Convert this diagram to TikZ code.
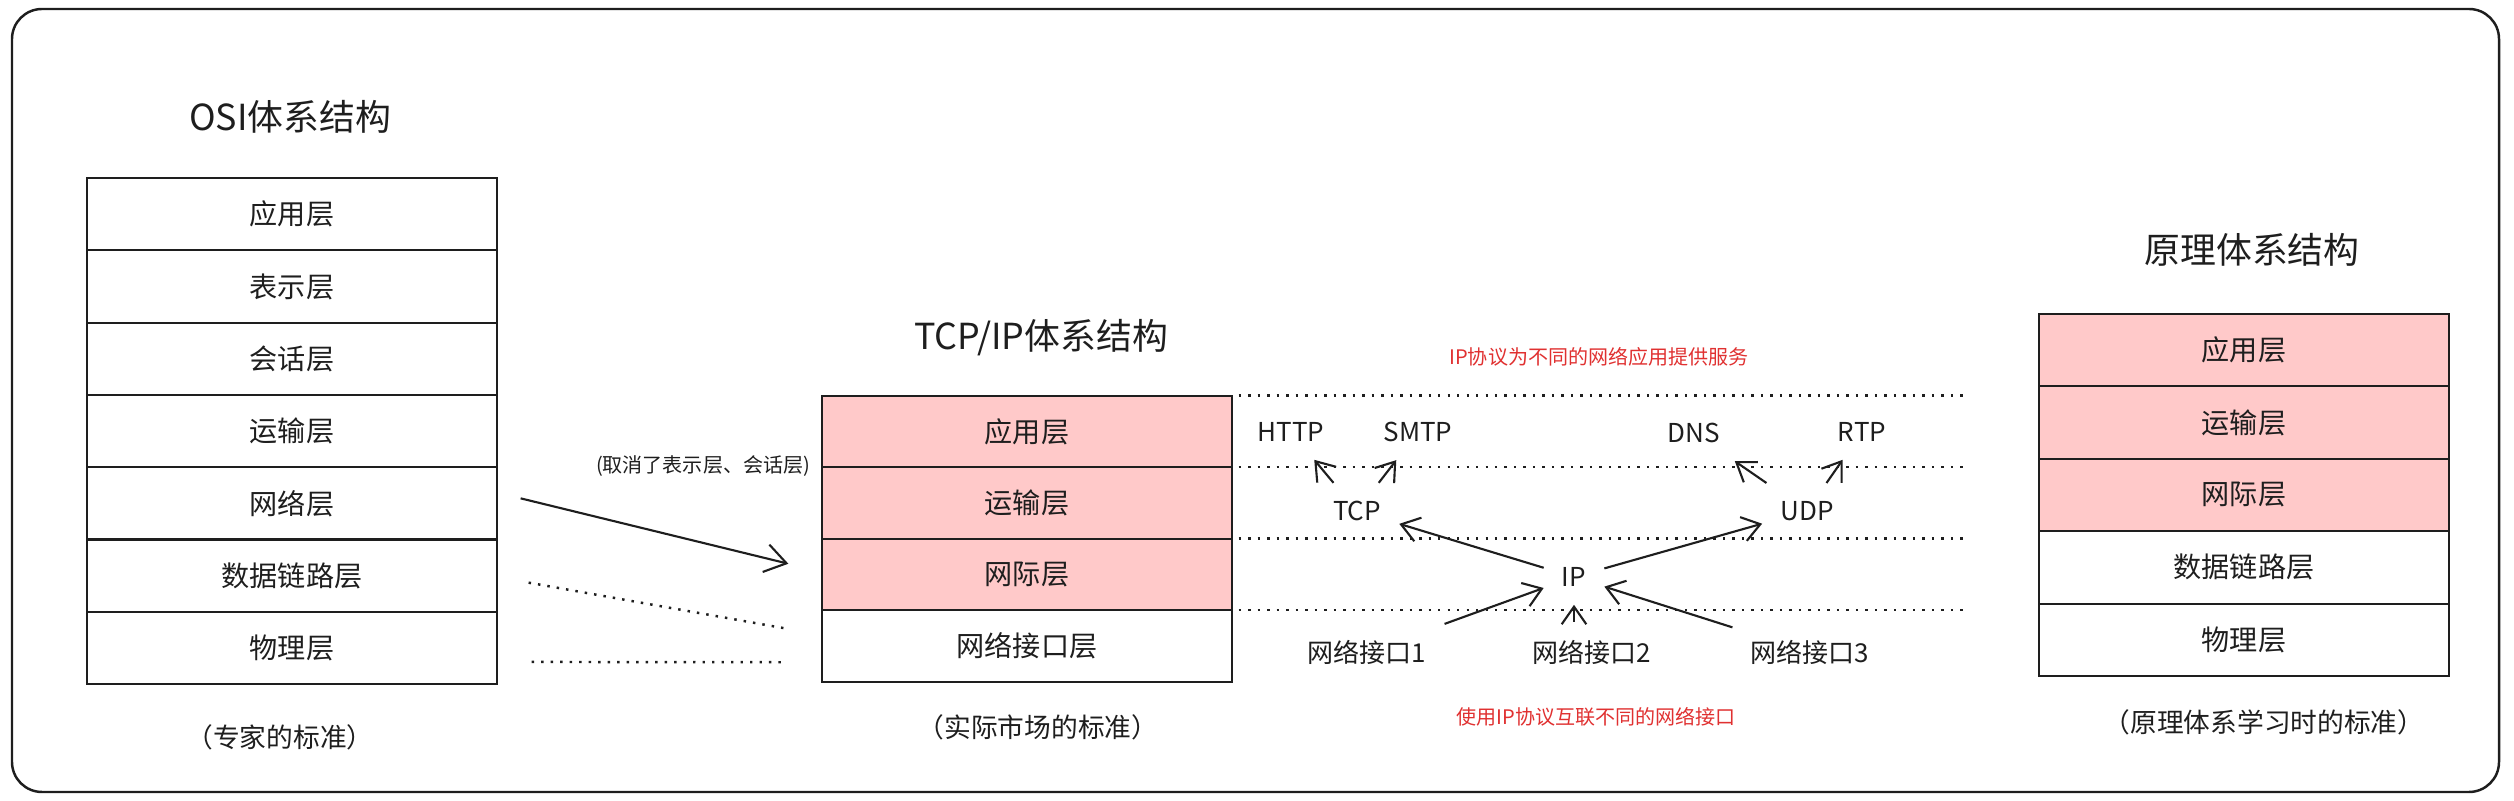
\documentclass[tikz,border=0pt]{standalone}
\usepackage{fontspec}
\setmainfont{Noto Sans CJK SC}
\usetikzlibrary{arrows.meta}
\definecolor{ink}{HTML}{1E1E1E}
\definecolor{rose}{HTML}{FFC9C9}
\definecolor{alert}{HTML}{E03131}

\begin{document}
\begin{tikzpicture}[x=0.01cm, y=-0.01cm,
layer/.style={draw=ink, line width=0.6pt, minimum width=4.09cm, minimum height=0.723cm,
 inner sep=0pt, outer sep=0pt, text=ink, font=\fontsize{8}{10}\selectfont},
heading/.style={text=ink, font=\fontsize{10.2}{12}\selectfont},
remark/.style={text=ink, font=\fontsize{7.6}{9}\selectfont},
aside/.style={text=ink, font=\fontsize{5.7}{7}\selectfont},
proto/.style={text=ink, inner sep=5pt, font=\fontsize{7.4}{9}\selectfont},
redtext/.style={text=alert, font=\fontsize{5.7}{7}\selectfont},
arr/.style={draw=ink, line width=0.6pt, -{Straight Barb[length=5pt,width=7pt]}},
guide/.style={draw=ink, dotted, line width=0.7pt}
]
\useasboundingbox (0,0) rectangle (2514,801);
\draw[ink, line width=0.7pt, rounded corners=0.3cm] (12,9) rectangle (2499,792);

% OSI
\node[heading] (osititle) at (290,117) {OSI体系结构};
\foreach \txt [count=\i] in {应用层,表示层,会话层,运输层,网络层,数据链路层,物理层}
 \node[layer] (osi\i) at (292,{178+72.3*(\i-0.5)}) {\txt};
\node[remark] (osinote) at (280,737) {（专家的标准）};

% TCP/IP
\node[heading] (tcpiptitle) at (1041,338) {TCP/IP体系结构};
\foreach \txt/\bg [count=\i] in {应用层/rose,运输层/rose,网际层/rose,网络接口层/white}
 \node[layer, fill=\bg] (tcpip\i) at (1027,{396+71.5*(\i-0.5)}) {\txt};
\node[remark] (tcpipnote) at (1038,727) {（实际市场的标准）};

% 原理
\node[heading] (printitle) at (2252,250) {原理体系结构};
\foreach \txt/\bg [count=\i] in {应用层/rose,运输层/rose,网际层/rose,数据链路层/white,物理层/white}
 \node[layer, fill=\bg] (prin\i) at (2244,{314+72.4*(\i-0.5)}) {\txt};
\node[remark] (prinnote) at (2264,722) {（原理体系学习时的标准）};

\node[aside] (cut) at (703,466) {(取消了表示层、会话层)};
\draw[arr, -{Straight Barb[length=6pt,width=8pt]}] ([shift={(24,-5)}]osi5.east) -- ([shift={(-34,-11)}]tcpip3.west);
\draw[guide] ([shift={(32,7)}]osi6.east) -- ([shift={(-38,-18)}]tcpip4.west);
\draw[guide] ([shift={(35,14)}]osi7.east) -- ([shift={(-35,16)}]tcpip4.west);

\coordinate (rim) at (1963,0);
\foreach \i in {1,...,4}
 \draw[guide] ([xshift=0.07cm]tcpip\i.north east) -- (rim |- tcpip\i.north east);

\node[redtext] (servenote) at (1599,357) {IP协议为不同的网络应用提供服务};
\node[proto] (http) at (1291,432) {HTTP};
\node[proto] (smtp) at (1418,432) {SMTP};
\node[proto] (dns) at (1694,433) {DNS};
\node[proto] (rtp) at (1862,432) {RTP};
\node[proto] (tcp) at (1357,511) {TCP};
\node[proto] (udp) at (1807,511) {UDP};
\node[proto] (ip) at (1574,577) {IP};
\node[proto] (nic1) at (1367,652) {网络接口1};
\node[proto] (nic2) at (1592,652) {网络接口2};
\node[proto] (nic3) at (1810,652) {网络接口3};
\node[redtext] (linknote) at (1596,717) {使用IP协议互联不同的网络接口};

\draw[arr] (tcp) -- (http);
\draw[arr] (tcp) -- (smtp);
\draw[arr] (udp) -- (dns);
\draw[arr] (udp) -- (rtp);
\draw[arr] (ip) -- (tcp);
\draw[arr] (ip) -- (udp);
\draw[arr] (nic1) -- (ip);
\draw[arr] (nic2.north -| ip) -- (ip);
\draw[arr] (nic3) -- (ip);

\end{tikzpicture}
\end{document}
